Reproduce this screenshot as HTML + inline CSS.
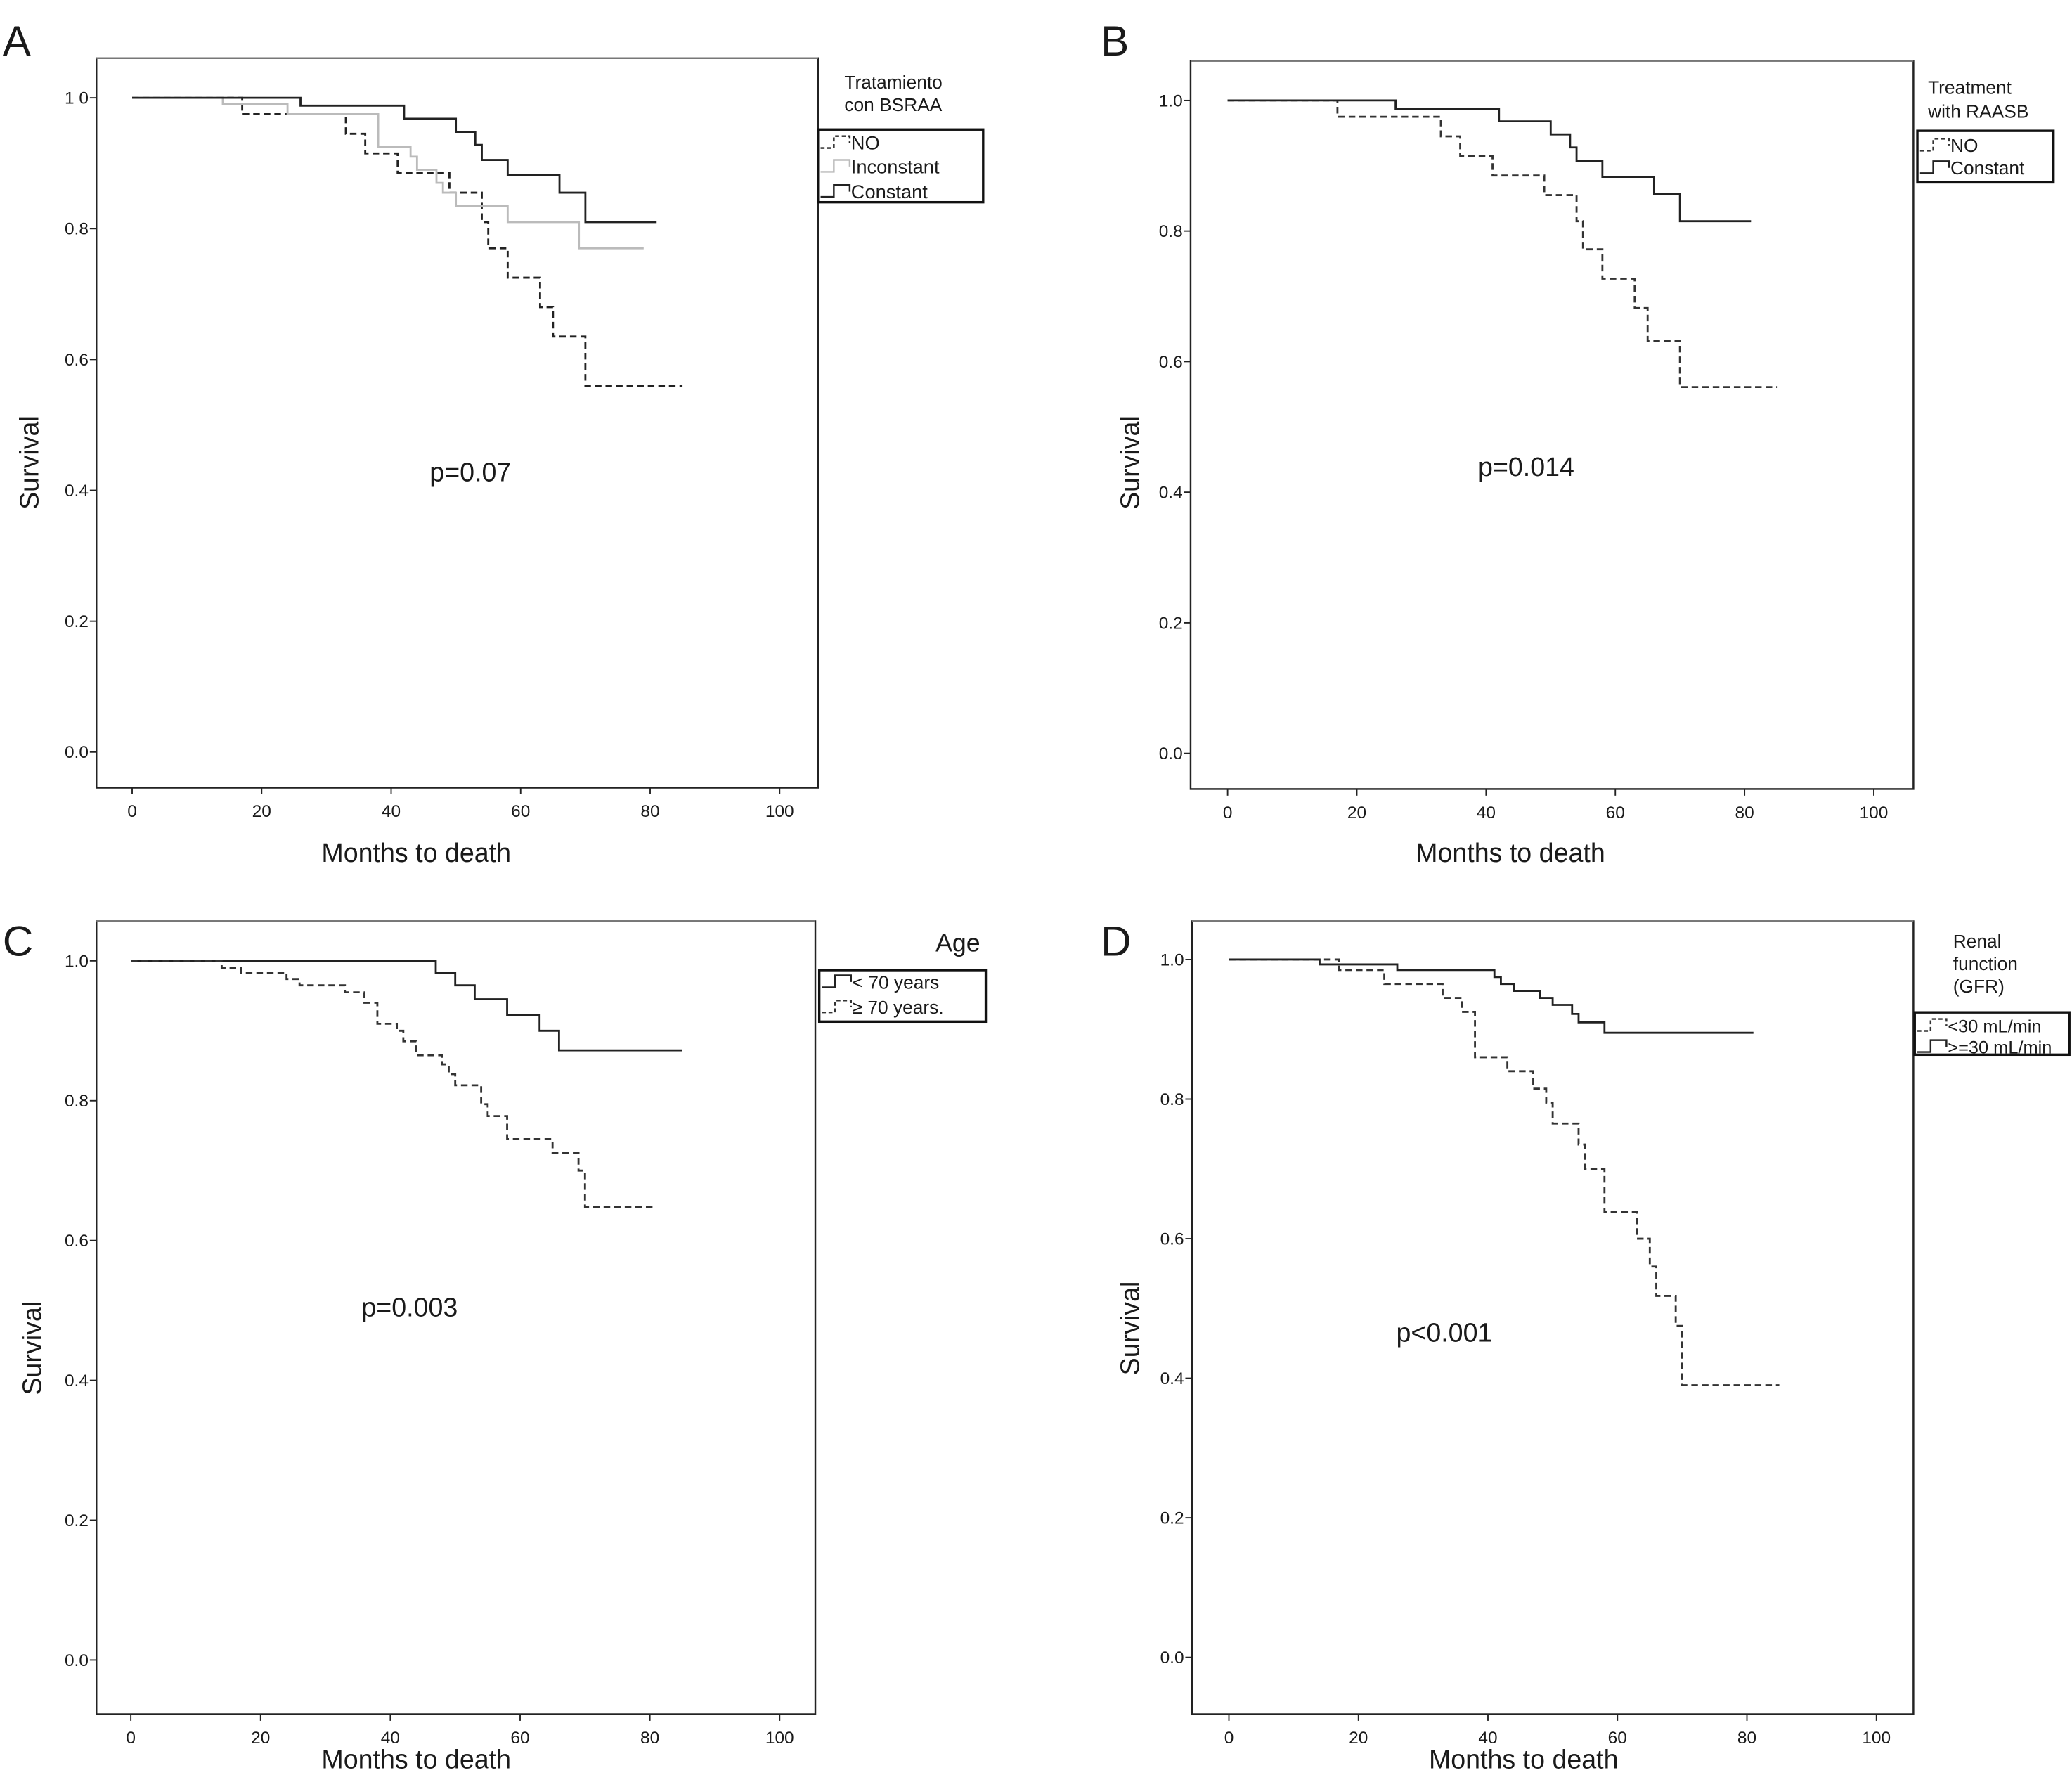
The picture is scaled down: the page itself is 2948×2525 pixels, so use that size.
<!DOCTYPE html>
<html><head><meta charset="utf-8">
<style>
html,body{margin:0;padding:0;background:#fff;}
svg{display:block;}
text{font-family:"Liberation Sans",sans-serif;fill:#1a1a1a;}
</style></head>
<body>
<svg id="fig" width="2948" height="2525" viewBox="0 0 1568 1343" xmlns="http://www.w3.org/2000/svg"></svg>
<script>
// ---- Data (months, survival) ----
const xTicks = [0, 20, 40, 60, 80, 100];
const yTicks = [0.0, 0.2, 0.4, 0.6, 0.8, 1.0];
const yTickLabelsA = ["0.0", "0.2", "0.4", "0.6", "0.8", "1 0"];
const yTickLabels = ["0.0", "0.2", "0.4", "0.6", "0.8", "1.0"];

const aNoT = [0, 17, 33, 36, 41, 49, 54, 55, 58, 63, 65, 70, 85];
const aNoS = [1.0, 0.975, 0.945, 0.915, 0.885, 0.855, 0.81, 0.77, 0.725, 0.68, 0.635, 0.56];
const aInT = [0, 14, 24, 38, 43, 44, 47, 48, 50, 58, 69, 79];
const aInS = [1.0, 0.99, 0.975, 0.925, 0.91, 0.89, 0.87, 0.855, 0.835, 0.81, 0.77];
const aCoT = [0, 26, 42, 50, 53, 54, 58, 66, 70, 81];
const aCoS = [1.0, 0.988, 0.968, 0.948, 0.928, 0.905, 0.882, 0.855, 0.81];

const bNoT = [0, 17, 33, 36, 41, 49, 54, 55, 58, 63, 65, 70, 85];
const bNoS = [1.0, 0.975, 0.945, 0.915, 0.885, 0.855, 0.815, 0.772, 0.727, 0.682, 0.632, 0.561];
const bCoT = [0, 26, 42, 50, 53, 54, 58, 66, 70, 81];
const bCoS = [1.0, 0.987, 0.968, 0.948, 0.928, 0.907, 0.883, 0.857, 0.815];

const cYoungT = [0, 47, 50, 53, 58, 63, 66, 85];
const cYoungS = [1.0, 0.983, 0.965, 0.945, 0.922, 0.9, 0.872];
const cOldT = [0, 14, 17, 24, 26, 33, 36, 38, 41, 42, 44, 48, 49, 50, 54, 55, 58, 65, 69, 70, 81];
const cOldS = [1.0, 0.99, 0.983, 0.974, 0.965, 0.955, 0.94, 0.91, 0.9, 0.885, 0.865, 0.852, 0.838, 0.822, 0.795, 0.778, 0.745, 0.725, 0.7, 0.648];

const dLowT = [0, 17, 24, 33, 36, 38, 43, 47, 49, 50, 54, 55, 58, 63, 65, 66, 69, 70, 85];
const dLowS = [1.0, 0.985, 0.965, 0.945, 0.925, 0.86, 0.84, 0.815, 0.795, 0.765, 0.735, 0.7, 0.638, 0.6, 0.56, 0.518, 0.475, 0.39];
const dHighT = [0, 14, 26, 41, 42, 44, 48, 50, 53, 54, 58, 81];
const dHighS = [1.0, 0.993, 0.985, 0.975, 0.965, 0.955, 0.945, 0.935, 0.922, 0.91, 0.895];

const NS = "http://www.w3.org/2000/svg";
const svg = document.getElementById('fig');
function el(tag, attrs, parent, txt) {
  const e = document.createElementNS(NS, tag);
  for (const k in attrs) e.setAttribute(k, attrs[k]);
  if (txt !== undefined) e.textContent = txt;
  (parent || svg).appendChild(e);
  return e;
}

const panels = [
  {id:'a', letter:'A', lx:2, ly:42, box:[73,44,619,596], x0:100, x100:590, y1:74, y0:569, yl:yTickLabelsA,
   p:'p=0.07', px:356, py:364, survX:22, survY:350, mX:315, mY:652,
   legTitle:['Tratamiento','con BSRAA'], ltX:639, ltY:[67,84], ltSize:14, lbox:[619,98,744,153], lfs:14.5,
   series:[{t:aNoT,s:aNoS,dash:'5,3',col:'#222',name:'NO',ly:108},
           {t:aInT,s:aInS,dash:null,col:'#bbb',name:'Inconstant',ly:126},
           {t:aCoT,s:aCoS,dash:null,col:'#222',name:'Constant',ly:145}]},
  {id:'b', letter:'B', lx:833, ly:42, box:[901,46,1448,597], x0:929, x100:1418, y1:76, y0:570, yl:yTickLabels,
   p:'p=0.014', px:1155, py:360, survX:855, survY:350, mX:1143, mY:652,
   legTitle:['Treatment','with RAASB'], ltX:1459, ltY:[71,89], ltSize:14, lbox:[1451,99,1554,138], lfs:14,
   series:[{t:bNoT,s:bNoS,dash:'5,3',col:'#333',name:'NO',ly:110},
           {t:bCoT,s:bCoS,dash:null,col:'#222',name:'Constant',ly:127}]},
  {id:'c', letter:'C', lx:2, ly:723, box:[73,697,617,1297], x0:99, x100:590, y1:727, y0:1256, yl:yTickLabels,
   p:'p=0.003', px:310, py:996, survX:24, survY:1020, mX:315, mY:1338,
   legTitle:['Age'], ltX:708, ltY:[720], ltSize:19, lbox:[620,734,746,773], lfs:14,
   series:[{t:cYoungT,s:cYoungS,dash:null,col:'#222',name:'< 70 years',ly:743},
           {t:cOldT,s:cOldS,dash:'5,3',col:'#333',name:' \u2265 70 years.',ly:762}]},
  {id:'d', letter:'D', lx:833, ly:723, box:[902,697,1448,1297], x0:930, x100:1420, y1:726, y0:1254, yl:yTickLabels,
   p:'p<0.001', px:1093, py:1015, survX:855, survY:1005, mX:1153, mY:1338,
   legTitle:['Renal','function','(GFR)'], ltX:1478, ltY:[717,734,751], ltSize:14, lbox:[1449,766,1566,798], lfs:13.5,
   series:[{t:dLowT,s:dLowS,dash:'5,3',col:'#333',name:'<30 mL/min',ly:776},
           {t:dHighT,s:dHighS,dash:null,col:'#222',name:'>=30 mL/min',ly:792}]}
];

panels.forEach(P => {
  const g = el('g', {});
  
  
  const X = v => P.x0 + (P.x100 - P.x0) * v / 100;
  const Y = v => P.y0 + (P.y1 - P.y0) * v;

  const letter = el('text', {x:P.lx, y:P.ly, 'font-size':32}, g, P.letter);
  
  

  const [bx1,by1,bx2,by2] = P.box;
  const frame = el('rect', {x:bx1, y:by1, width:bx2-bx1, height:by2-by1, fill:'none', stroke:'#222', 'stroke-width':1.3}, g);
  
  
  el('line', {x1:bx1, y1:by1, x2:bx2, y2:by1, stroke:'#777', 'stroke-width':1.3}, g);

  xTicks.forEach(v => {
    el('line', {x1:X(v), y1:by2, x2:X(v), y2:by2+5, stroke:'#222', 'stroke-width':1}, g);
    const t = el('text', {x:X(v), y:by2+22, 'font-size':13, 'text-anchor':'middle'}, g, String(v));
    
    
  });
  yTicks.forEach((v,i) => {
    el('line', {x1:bx1-5, y1:Y(v), x2:bx1, y2:Y(v), stroke:'#222', 'stroke-width':1}, g);
    const t = el('text', {x:bx1-6, y:Y(v)+4.5, 'font-size':13, 'text-anchor':'end'}, g, P.yl[i]);
    
    
  });

  const yt = el('text', {x:P.survX, y:P.survY, 'font-size':20, 'text-anchor':'middle', transform:`rotate(-90 ${P.survX} ${P.survY})`, dy:7}, g, 'Survival');
  
  
  const xt = el('text', {x:P.mX, y:P.mY, 'font-size':20, 'text-anchor':'middle'}, g, 'Months to death');
  
  
  const pv = el('text', {x:P.px, y:P.py, 'font-size':20, 'text-anchor':'middle'}, g, P.p);
  
  

  P.series.forEach(S => {
    let d = `M${X(S.t[0])},${Y(S.s[0])}`;
    for (let i = 0; i < S.s.length; i++) {
      d += ` H${X(S.t[i+1])}`;
      if (i + 1 < S.s.length) d += ` V${Y(S.s[i+1])}`;
    }
    const attrs = {d:d, fill:'none', stroke:S.col, 'stroke-width':1.5};
    if (S.dash) attrs['stroke-dasharray'] = S.dash;
    const path = el('path', attrs, g);
    
    
  });

  P.legTitle.forEach((tl,i) => {
    const t = el('text', {x:P.ltX, y:P.ltY[i], 'font-size':P.ltSize}, g, tl);
    
    
  });
  const [lx1,ly1,lx2,ly2] = P.lbox;
  const lb = el('rect', {x:lx1, y:ly1, width:lx2-lx1, height:ly2-ly1, fill:'#fff', stroke:'#111', 'stroke-width':1.8}, g);
  
  
  P.series.forEach(S => {
    const sx = lx1 + 2, yy = S.ly;
    const sattrs = {d:`M${sx},${yy+4} H${sx+10} V${yy-5} H${sx+22} V${yy}`, fill:'none', stroke:S.col, 'stroke-width':1.3};
    if (S.dash) sattrs['stroke-dasharray'] = '3,2';
    const sw = el('path', sattrs, g);
    
    
    const t = el('text', {x:sx+23, y:yy+5, 'font-size':P.lfs}, g, S.name);
    
    
  });
});
</script>
</body></html>
